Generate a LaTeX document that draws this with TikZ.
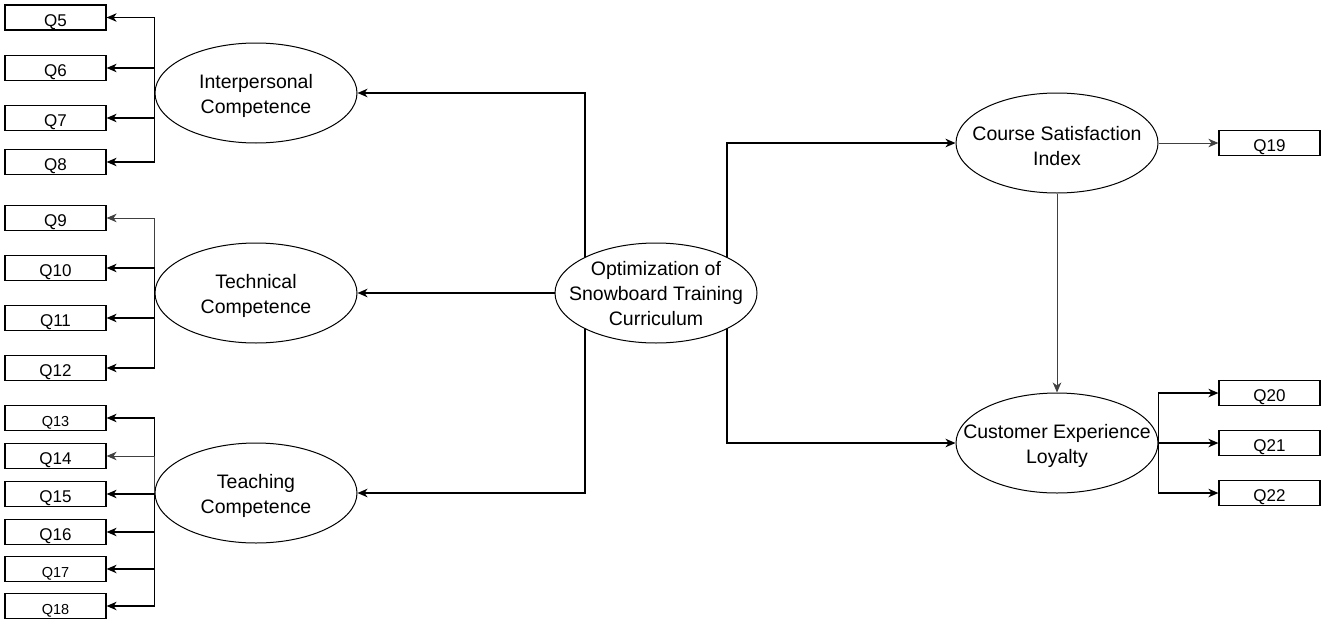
\documentclass[tikz,border=0pt]{standalone}
\usepackage{fontspec}
\setmainfont{Liberation Sans}
\usetikzlibrary{shapes.geometric,arrows.meta,backgrounds}
\begin{document}
\begin{tikzpicture}[x=1pt,y=-1pt,
 lat/.style={ellipse,draw,line width=1pt,fill=white,minimum width=202pt,minimum height=100pt,inner sep=0pt},
 lattext/.style={align=center,inner sep=0pt,yshift=-3pt,font=\fontsize{19.5}{25}\selectfont},
 obs/.style={rectangle,draw,line width=1.2pt,fill=white,minimum width=101pt,minimum height=25pt,inner sep=0pt,text height=17pt,text depth=0pt,font=\fontsize{17}{20}\selectfont},
 obss/.style={obs,font=\fontsize{14.5}{18}\selectfont},
 arr/.style={-{Stealth[length=10pt,width=8.5pt,inset=3pt]},line width=1.3pt},
 thin/.style={line width=0.9pt,draw=black!75},
]
\useasboundingbox (0,0) rectangle (1325,624);
% latent variables
\node[lat] (ip) at (256,93) {};
\node[lattext] at (ip) {Interpersonal\\Competence};
\node[lat] (tc) at (256,293) {};
\node[lattext] at (tc) {Technical\\Competence};
\node[lat] (tg) at (256,493) {};
\node[lattext] at (tg) {Teaching\\Competence};
\node[lat] (opt) at (656,293) {};
\node[lattext,yshift=2pt] at (opt) {Optimization of\\Snowboard Training\\Curriculum};
\node[lat] (csi) at (1057,143) {};
\node[lattext] at (csi) {Course Satisfaction\\Index};
\node[lat] (cel) at (1057,443) {};
\node[lattext] at (cel) {Customer Experience\\Loyalty};
% observed
\node[obs] (q5) at (55.5,17.5) {Q5};
\node[obs] (q6) at (55.5,68) {Q6};
\node[obs] (q7) at (55.5,118) {Q7};
\node[obs] (q8) at (55.5,162) {Q8};
\node[obs] (q9) at (55.5,218) {Q9};
\node[obs] (q10) at (55.5,268) {Q10};
\node[obs] (q11) at (55.5,318) {Q11};
\node[obs] (q12) at (55.5,368) {Q12};
\node[obss] (q13) at (55.5,418) {Q13};
\node[obs] (q14) at (55.5,456) {Q14};
\node[obs] (q15) at (55.5,494) {Q15};
\node[obs] (q16) at (55.5,532) {Q16};
\node[obss] (q17) at (55.5,569) {Q17};
\node[obss] (q18) at (55.5,606) {Q18};
\node[obs] (q19) at (1269.5,143) {Q19};
\node[obs] (q20) at (1269.5,393) {Q20};
\node[obs] (q21) at (1269.5,443) {Q21};
\node[obs] (q22) at (1269.5,493) {Q22};
\coordinate (lb) at (585,293);
\coordinate (rb) at (727,293);
\begin{pgfonlayer}{background}
\draw[arr] (lb) |- (ip.east);
\draw[arr] (lb) |- (tg.east);
\draw[arr] (rb) |- (csi.west);
\draw[arr] (rb) |- (cel.west);
\end{pgfonlayer}
\draw[arr] (opt.west) -- (tc.east);
% indicators
\foreach \q in {q5,q6,q7,q8} \draw[arr] (ip.west) |- (\q.east);
\draw[arr,thin] (tc.west) |- (q9.east);
\foreach \q in {q10,q11,q12} \draw[arr] (tc.west) |- (\q.east);
\draw[arr] (tg.west) |- (q13.east);
\draw[arr,thin] (tg.west) |- (q14.east);
\foreach \q in {q15,q16,q17,q18} \draw[arr] (tg.west) |- (\q.east);
\draw[arr,thin] (csi.east) -- (q19.west);
\draw[arr,thin] (csi.south) -- (cel.north);
\foreach \q in {q20,q21,q22} \draw[arr] (cel.east) |- (\q.west);
\end{tikzpicture}
\end{document}
